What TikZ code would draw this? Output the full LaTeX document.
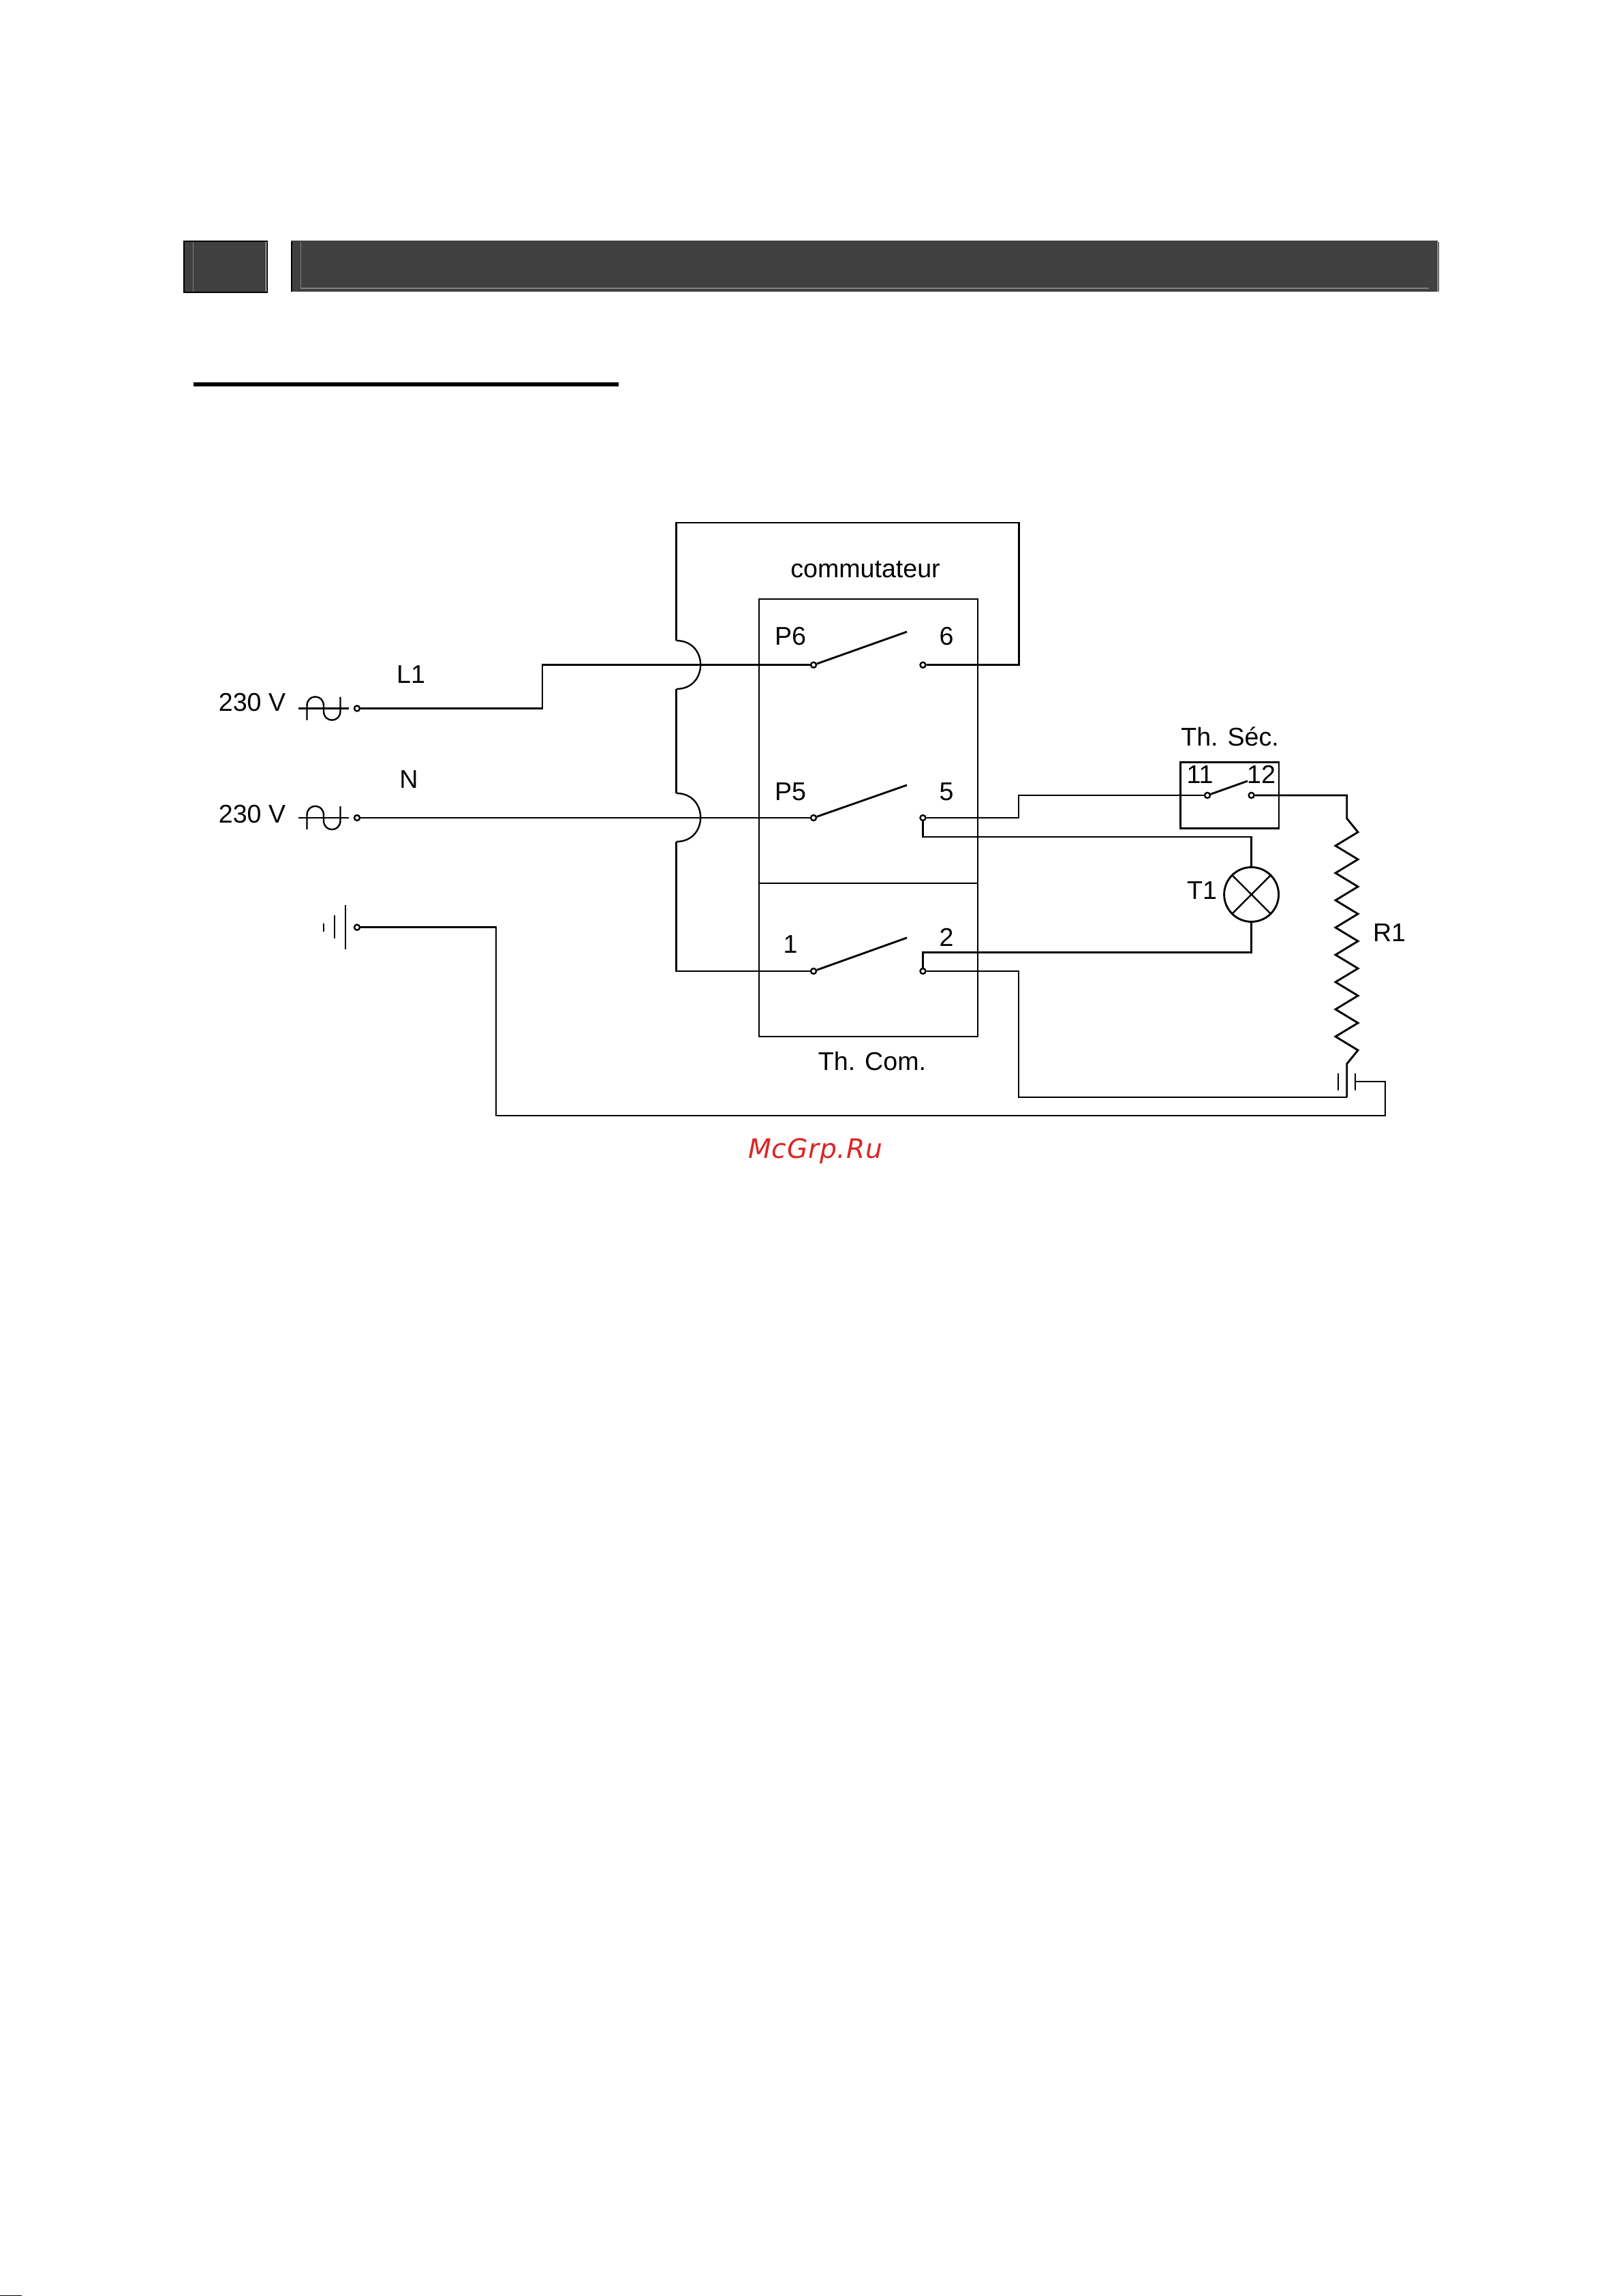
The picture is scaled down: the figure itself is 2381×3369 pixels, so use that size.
\documentclass[tikz,border=0pt]{standalone}
\usepackage{fontspec}
\setmainfont{Liberation Sans}
\newfontfamily\wmfont[LetterSpace=2]{DejaVu Sans}
\definecolor{band}{HTML}{404040}
\definecolor{bandline}{HTML}{808080}
\definecolor{wm}{HTML}{DD2424}
\tikzset{
  wire/.style={line width=0.72pt,line join=miter},
  thin wire/.style={line width=0.6pt},
  term/.style={circle,draw,line width=0.6pt,fill=white,inner sep=0pt,minimum size=2pt},
  lbl/.style={anchor=base,inner sep=0pt,font=\fontsize{9.4pt}{11pt}\selectfont},
  acsign/.pic={
    \draw[wire] (-37,0) -- (37,0);
    \draw[thin wire] (-24.5,17) -- (-24.5,-4) .. controls (-24.5,-21.5) and (0,-21.5) .. (0,-4)
      -- (0,4) .. controls (0,21.5) and (24.5,21.5) .. (24.5,4) -- (24.5,-17);
  }
}
\begin{document}
\begin{tikzpicture}[x=0.25pt,y=-0.25pt]
\useasboundingbox (0,0) rectangle (2381,3369);
% header
\fill[black] (269,353) rectangle (393,430);
\fill[band] (271,355) rectangle (390,428);
\fill[white] (390,355) rectangle (391,428);
\draw[bandline,line width=0.25pt] (283.5,355) -- (283.5,428);
\fill[band] (427,353) rectangle (2110,428);
\fill[black] (427,355) rectangle (429,428);
\fill[black] (2110.7,355) rectangle (2112,428);
\draw[bandline,line width=0.3pt] (441.5,355) -- (441.5,423) -- (2097,423);
% heading rule
\fill[black] (284,561) rectangle (908,567);
% boxes
\draw[wire] (1114,879) rectangle (1435,1521);
\coordinate (midL) at (1114,1296); \coordinate (midR) at (1435,1296);
\draw[wire] (midL) -- (midR);
\draw[wire] (1732.5,1118.5) rectangle (1877,1215.7);
% terminals
\node[term] (srcL) at (524,1039.5) {};
\node[term] (srcN) at (524,1200) {};
\node[term] (srcG) at (524,1360.7) {};
\node[term] (p6) at (1194,975.7) {};
\node[term] (t6) at (1354.5,975.7) {};
\node[term] (p5) at (1194,1200) {};
\node[term] (t5) at (1354.5,1200) {};
\node[term] (p1) at (1194,1425) {};
\node[term] (t2) at (1354.5,1425) {};
\node[term] (t11) at (1772,1167) {};
\node[term] (t12) at (1836.6,1167) {};
\coordinate (a6) at (1331,927);
\coordinate (a5) at (1331,1152);
\coordinate (a1) at (1331,1376);
\coordinate (a11) at (1831,1146);
\draw[wire] (p6) -- (a6);
\draw[wire] (p5) -- (a5);
\draw[wire] (p1) -- (a1);
\draw[wire] (t11) -- (a11);
% sources
\pic at (475,1039.5) {acsign};
\pic at (475,1200) {acsign};
% ground
\draw[thin wire] (507,1328) -- (507,1393);
\draw[thin wire] (491,1343) -- (491,1377);
\draw[thin wire] (475,1355) -- (475,1367);
% wires
\coordinate (stepA) at (796,1039.5); \coordinate (stepB) at (796,975.7);
\draw[wire] (srcL) -- (stepA) -- (stepB) -- (p6);
\draw[wire] (srcN) -- (p5);
% loop with jumps
\coordinate (j1) at (992.6,940); \coordinate (j2) at (992.6,1011);
\coordinate (j3) at (992.6,1164); \coordinate (j4) at (992.6,1235);
\coordinate (loopTL) at (992.6,767); \coordinate (loopTR) at (1495.5,767); \coordinate (loopBR) at (1495.5,975.7);
\coordinate (loopBL) at (992.6,1425);
\draw[wire] (t6) -- (loopBR) -- (loopTR) -- (loopTL) -- (j1);
\draw[wire] (j2) -- (j3);
\draw[wire] (j4) -- (loopBL) -- (p1);
\draw[thin wire] (j1) .. controls (1040,940) and (1040,1011) .. (j2);
\draw[thin wire] (j3) .. controls (1040,1164) and (1040,1235) .. (j4);
% thermostat and resistor
\coordinate (w5a) at (1495,1200); \coordinate (w5b) at (1495,1167);
\draw[wire] (t5) -- (w5a) -- (w5b) -- (t11);
\coordinate (rTopC) at (1976.7,1167);
\coordinate (rtop) at (1976.7,1201);
\coordinate (rbot) at (1976.7,1561);
\coordinate (rEnd) at (1976.7,1610);
\draw[wire] (t12) -- (rTopC) -- (rtop) -- (1993,1221)
  \foreach \k in {0,...,7}{ -- (1960,{1241+40*\k}) -- (1993,{1261+40*\k}) } -- (rbot) -- (rEnd);
\coordinate (w2a) at (1495,1425); \coordinate (w2b) at (1495,1610);
\draw[wire] (t2) -- (w2a) -- (w2b) -- (rEnd);
% lamp
\node[draw,wire,circle,minimum size=20pt,inner sep=0pt] (lamp) at (1836.6,1312.5) {};
\draw[thin wire] (lamp.45) -- (lamp.225);
\draw[thin wire] (lamp.135) -- (lamp.315);
\coordinate (l1a) at (1354.5,1228); \coordinate (l1b) at (1836.6,1228);
\draw[wire] (t5) -- (l1a) -- (l1b) -- (lamp.north);
\coordinate (l2a) at (1354.5,1397.5); \coordinate (l2b) at (1836.6,1397.5);
\draw[wire] (t2) -- (l2a) -- (l2b) -- (lamp.south);
% earth on resistor
\coordinate (ebarL1) at (1964,1575); \coordinate (ebarL2) at (1964,1600);
\coordinate (ebarR1) at (1989,1575); \coordinate (ebarR2) at (1989,1600);
\draw[thin wire] (ebarL1) -- (ebarL2);
\draw[wire] (ebarR1) -- (ebarR2);
\coordinate (eC) at (1989,1587); \coordinate (eD) at (2033,1587); \coordinate (eE) at (2033,1637); \coordinate (eF) at (728,1637); \coordinate (eG) at (728,1360.7);
\draw[wire] (eC) -- (eD) -- (eE) -- (eF) -- (eG) -- (srcG);
% labels
\node[lbl] (v1) at (370,1043) {230 V};
\node[lbl] (v2) at (370,1207) {230 V};
\node[lbl] (lL1) at (603,1002) {L1};
\node[lbl] (lN) at (600,1156) {N};
\node[lbl] (lcom) at (1270,847) {commutateur};
\node[lbl] (lP6) at (1160,946) {P6};
\node[lbl] (l6) at (1389,946) {6};
\node[lbl] (lP5) at (1160,1174) {P5};
\node[lbl] (l5) at (1389,1174) {5};
\node[lbl] (l1) at (1160,1398) {1};
\node[lbl] (l2) at (1389,1388) {2};
\node[lbl] (lThC) at (1280,1570) {Th. Com.};
\node[lbl] (lThS) at (1805,1094) {Th. Séc.};
\node[lbl] (l11) at (1761,1149) {11};
\node[lbl] (l12) at (1851,1149) {12};
\node[lbl] (lT1) at (1764,1319) {T1};
\node[lbl] (lR1) at (2039,1381) {R1};
\node[anchor=base,inner sep=0pt,text=wm,font=\wmfont\itshape\fontsize{9.8pt}{11pt}\selectfont] (wmk) at (1196.5,1699) {McGrp.Ru};
% scan remnant at the page foot
\fill[black] (0,3368) rectangle (32,3369);
\end{tikzpicture}
\end{document}
